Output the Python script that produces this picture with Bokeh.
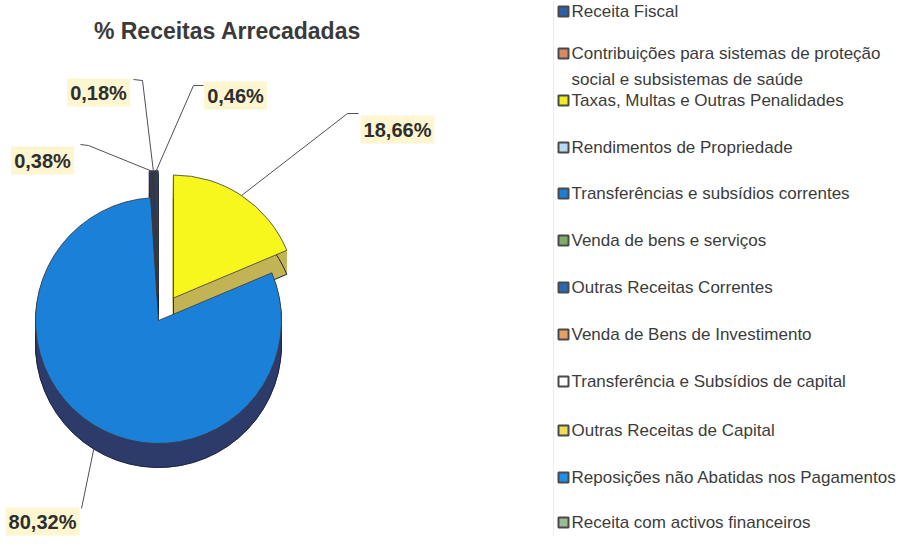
import numpy as np
from bokeh.plotting import figure
from bokeh.models import Range1d, ColumnDataSource, Span
from bokeh.core.properties import value
from bokeh.embed import file_html
from bokeh.resources import INLINE

# ---------------- data ----------------
title_text = "% Receitas Arrecadadas"

# pie slices, clockwise from 12 o'clock
slice_values = [18.66, 80.32, 0.38, 0.18, 0.46]
slice_labels = ["18,66%", "80,32%", "0,38%", "0,18%", "0,46%"]
slice_top_colors = ["#f7f71e", "#1a80d8", "#2d3a5c", "#2a3655", "#303d60"]
slice_side_colors = ["#c2b455", "#2c3b6a", "#222c46", "#222c46", "#222c46"]
slice_exploded = [True, False, True, True, True]

legend_labels = [
    "Receita Fiscal",
    "Contribuições para sistemas de proteção\nsocial e subsistemas de saúde",
    "Taxas, Multas e Outras Penalidades",
    "Rendimentos de Propriedade",
    "Transferências e subsídios correntes",
    "Venda de bens e serviços",
    "Outras Receitas Correntes",
    "Venda de Bens de Investimento",
    "Transferência e Subsídios de capital",
    "Outras Receitas de Capital",
    "Reposições não Abatidas nos Pagamentos",
    "Receita com activos financeiros",
]
legend_colors = ["#2b5fa8", "#d98a60", "#eeee22", "#b9d9f2", "#1c7fd6", "#7fae68",
                 "#2a68b6", "#e6a064", "#ffffff", "#eedd55", "#1e90e8", "#9bbb92"]

# ---------------- layout ----------------
W, H = 900, 536
CX, CY, R = 158, 216, 123
EXPLODE = 27
DEPTH = 24

# label centres and leader elbows (layout)
label_pos = [(397, 407), (42, 15), (42, 376), (98, 444), (235, 441)]
leader_elbow = [((358, 423), (347, 423)), ((81, 28), (81, 28)), ((80, 392), (88, 391)),
                ((133, 457), (142, 456)), ((203, 451), (193, 451))]

legend_y = [525, 483, 436, 389, 343, 296, 249, 202, 155, 106, 59, 14]
LEGEND_LINE_STEP = 26
MARKER_X, TEXT_X = 563, 571

# ---------------- geometry from data ----------------
vals = np.array(slice_values, dtype=float)
frac = vals / vals.sum()
cum = np.concatenate([[0.0], np.cumsum(frac)])
start = np.deg2rad(90.0 - cum[:-1] * 360.0)
end = np.deg2rad(90.0 - cum[1:] * 360.0)
mid = (start + end) / 2.0
ex = np.array([EXPLODE if e else 0 for e in slice_exploded], dtype=float)
sx = CX + ex * np.cos(mid)
sy = CY + ex * np.sin(mid)

p = figure(width=W, height=H, x_range=Range1d(0, W), y_range=Range1d(0, H),
           output_backend="svg", toolbar_location=None, min_border=0,
           x_axis_location=None, y_axis_location=None)
p.grid.visible = False
p.outline_line_color = None
p.background_fill_color = "white"
p.border_fill_color = "white"

# faint legend frame line
p.add_layout(Span(location=553, dimension="height", line_color="#ececec", line_width=1))

# 3D sides: stacked wedges
side_x, side_y, side_s, side_e, side_c = [], [], [], [], []
for k in range(1, DEPTH + 1):
    for i in range(len(vals)):
        side_x.append(sx[i]); side_y.append(sy[i] - k)
        side_s.append(start[i]); side_e.append(end[i]); side_c.append(slice_side_colors[i])
side_src = ColumnDataSource(dict(x=side_x, y=side_y, s=side_s, e=side_e, c=side_c))
p.wedge(x="x", y="y", radius=R, start_angle="s", end_angle="e", direction="clock",
        fill_color="c", line_color="c", line_width=0.5, source=side_src)
p.wedge(x=sx, y=sy - DEPTH, radius=R, start_angle=start, end_angle=end, direction="clock",
        fill_color=None, line_color="#1c2540", line_width=1)

# top faces (exploded yellow drawn last)
order = [1, 2, 3, 4, 0]
top_src = ColumnDataSource(dict(x=sx[order], y=sy[order], s=start[order], e=end[order],
                                c=[slice_top_colors[i] for i in order]))
p.wedge(x="x", y="y", radius=R, start_angle="s", end_angle="e", direction="clock",
        fill_color="c", line_color="#3b3b3b", line_width=0.8, source=top_src)

# leader lines
lx, ly = [], []
for i in range(len(vals)):
    px0 = sx[i] + R * np.cos(mid[i])
    py0 = sy[i] + R * np.sin(mid[i])
    if not slice_exploded[i]:
        py0 -= DEPTH
    (ax, ay), (bx, by) = leader_elbow[i]
    lx.append([ax, bx, px0]); ly.append([ay, by, py0])
p.multi_line(xs=lx, ys=ly, line_color="#505050", line_width=1)

# percentage labels
p.text(x=[q[0] for q in label_pos], y=[q[1] for q in label_pos], text=slice_labels,
       text_font=value("Liberation Sans"), text_font_style="bold",
       text_font_size="20px", text_color="#2e2e2e", text_align="center",
       text_baseline="middle", background_fill_color="#fdf6d0", padding=3)

# title
p.text(x=[227], y=[506], text=[title_text], text_font=value("Liberation Sans"),
       text_font_style="bold", text_font_size="23px", text_color="#3a3a3a",
       text_align="center", text_baseline="middle")

# legend
p.scatter(x=[MARKER_X] * len(legend_labels), y=legend_y, marker="square", size=10,
          fill_color=legend_colors, line_color="#4a4a4a", line_width=2)
tx, ty, tt = [], [], []
for yy, lab in zip(legend_y, legend_labels):
    for j, line in enumerate(lab.split("\n")):
        tx.append(TEXT_X); ty.append(yy - j * LEGEND_LINE_STEP); tt.append(line)
p.text(x=tx, y=ty, text=tt, text_font=value("Liberation Sans"), text_font_size="17px",
       text_color="#3c3c3c", text_align="left", text_baseline="middle")

open("out.html", "w").write(file_html(p, INLINE))
